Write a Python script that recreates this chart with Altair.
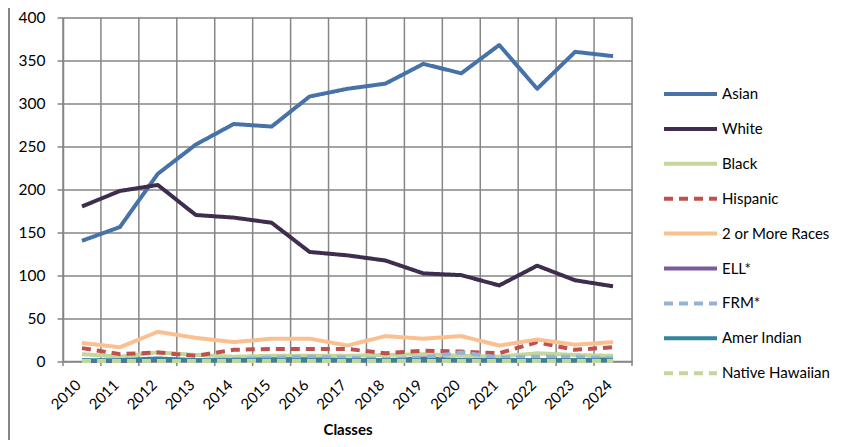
import altair as alt
import pandas as pd

years = list(range(2010, 2025))
series = ["Asian", "White", "Black", "Hispanic", "2 or More Races",
          "ELL*", "FRM*", "Amer Indian", "Native Hawaiian"]

asian = [140, 156, 218, 252, 276, 273, 308, 317, 323, 346, 335, 368, 317, 360, 355]
white = [180, 198, 205, 170, 167, 161, 127, 123, 117, 102, 100, 88, 111, 94, 87]
black = [8, 5, 10, 7, 5, 6, 6, 6, 7, 8, 6, 5, 9, 7, 6]
hispanic = [15, 8, 10, 6, 13, 14, 14, 14, 9, 12, 11, 9, 22, 13, 16]
two_more = [21, 16, 34, 27, 22, 26, 26, 18, 29, 26, 29, 18, 25, 19, 22]
ell = [0, 0, 1, 1, 1, 2, 2, 1, 1, 3, 1, 1, 1, 1, 2]
frm = [1, 1, 2, 1, 2, 4, 5, 4, 2, 4, 10, 4, 5, 5, 3]
amer_indian = [1, 1, 3, 1, 1, 1, 1, 1, 1, 1, 1, 1, 1, 1, 1]
native_hawaiian = [0, 0, 0, 0, 0, 0, 0, 0, 0, 0, 0, 0, 0, 0, 0]

values = [asian, white, black, hispanic, two_more, ell, frm, amer_indian, native_hawaiian]
colors = ["#4672A8", "#3E2D4F", "#C3D69B", "#C0504D", "#FAC090",
          "#7A5C9A", "#95B3D7", "#31859C", "#C3D69B"]
dashes = [[1, 0], [1, 0], [1, 0], [9, 6], [1, 0], [1, 0], [9, 6], [1, 0], [9, 6]]

rows = []
for s, vals in zip(series, values):
    for y, v in zip(years, vals):
        rows.append({"Year": y, "Series": s, "Value": v})
df = pd.DataFrame(rows)

bounds = pd.DataFrame({"b": [y - 0.5 for y in years] + [years[-1] + 0.5]})

W, H = 569, 343.5
GRID = "#868686"
FONT = "Lato"

xscale = alt.Scale(domain=[years[0] - 0.5, years[-1] + 0.5], nice=False, zero=False)
yscale = alt.Scale(domain=[0, 400], nice=False)

xaxis = alt.Axis(values=years, format="d", title="Classes", grid=False,
                 ticks=False, labelAngle=-45, labelAlign="right",
                 labelBaseline="top", labelPadding=16, labelOffset=-9,
                 labelFontSize=15, labelFont=FONT, labelColor="#000",
                 titleFont=FONT, titleFontSize=15, titleFontWeight="bold",
                 titleColor="#000", titlePadding=10,
                 domainColor=GRID, domainWidth=1.5)

vgrid = alt.Chart(bounds).mark_rule(color=GRID, strokeWidth=1.5).encode(
    x=alt.X("b:Q", scale=xscale, axis=xaxis),
    y=alt.value(0),
    y2=alt.value(H + 5),
)

lines = alt.Chart(df).mark_line(strokeWidth=4, strokeCap="butt", strokeJoin="round").encode(
    x=alt.X("Year:Q", scale=xscale, axis=xaxis),
    y=alt.Y("Value:Q", scale=yscale,
            axis=alt.Axis(values=list(range(0, 401, 50)), title=None, grid=True,
                          gridColor=GRID, gridWidth=1.5, gridOpacity=1,
                          tickSize=6, tickColor=GRID, tickWidth=1.5,
                          labelPadding=12, labelFontSize=15.5, labelFont=FONT,
                          labelColor="#000", domainColor=GRID, domainWidth=1.5)),
    color=alt.Color("Series:N", scale=alt.Scale(domain=series, range=colors),
                    sort=series, title=None,
                    legend=alt.Legend(orient="none", legendX=599, legendY=61.5,
                                      symbolType="stroke", symbolSize=2809,
                                      symbolStrokeWidth=4, labelFont=FONT,
                                      labelFontSize=15, labelColor="#000",
                                      labelOffset=3, clipHeight=30, rowPadding=4.9,
                                      labelLimit=300)),
    strokeDash=alt.StrokeDash("Series:N", scale=alt.Scale(domain=series, range=dashes),
                              sort=series, title=None, legend=None),
    order=alt.Order("Year:Q"),
)

border = alt.Chart(bounds).mark_rule(color=GRID, strokeWidth=1.5).encode(
    x=alt.value(-54),
    y=alt.value(-9.5),
    y2=alt.value(H + 85),
)

chart = alt.layer(vgrid, lines, border).properties(
    width=W, height=H,
    autosize=alt.AutoSizeParams(type="none"),
    padding={"left": 55, "top": 9.5, "right": 206, "bottom": 79},
).configure_view(stroke=None).configure(background="white")

chart.save("out.html", embed_options={"renderer": "svg", "actions": False})
